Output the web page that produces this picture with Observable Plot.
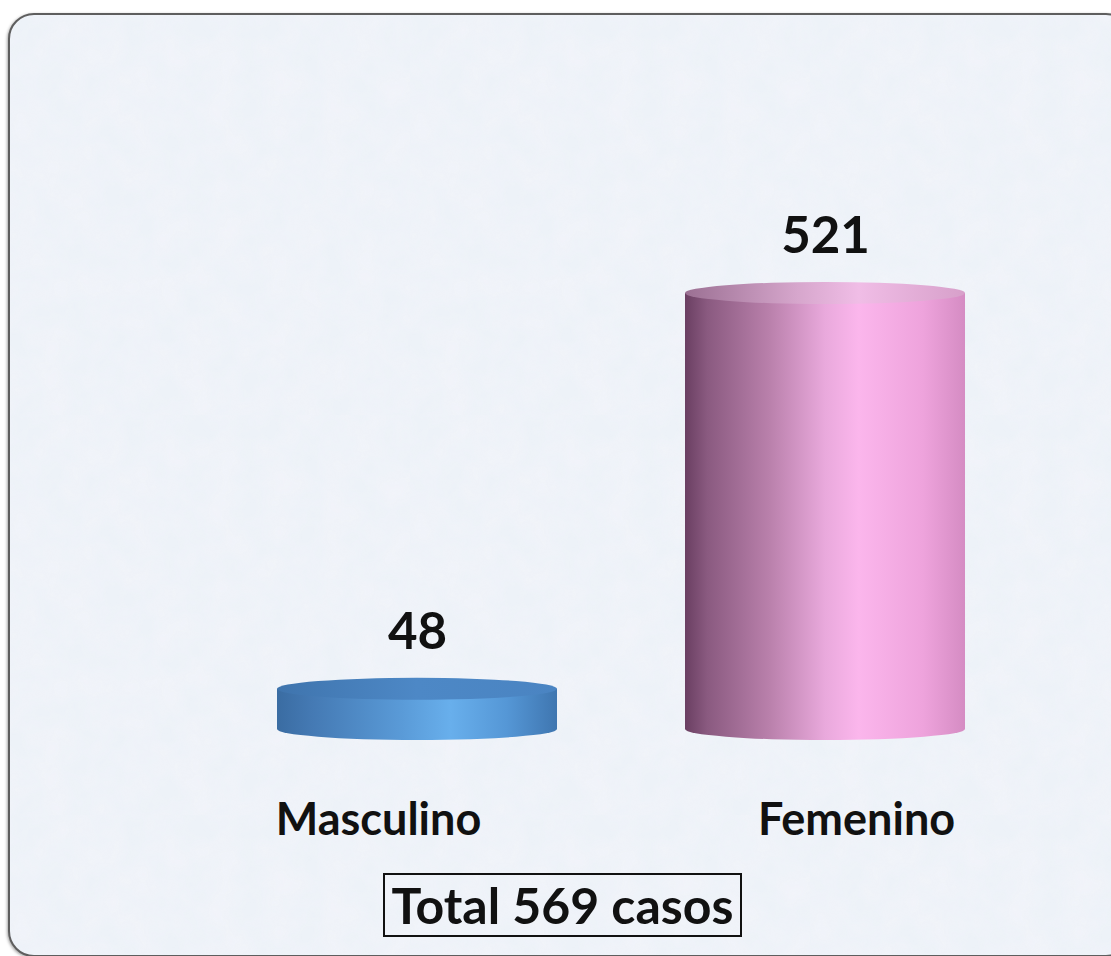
<!DOCTYPE html>
<html><head><meta charset="utf-8">
<script src="https://cdn.jsdelivr.net/npm/d3@7"></script>
<script src="https://cdn.jsdelivr.net/npm/@observablehq/plot@0.6"></script>
<style>
html,body{margin:0;padding:0;width:1111px;height:956px;overflow:hidden;background:#fff;}
#frame{position:absolute;left:8px;top:13px;width:1120px;height:940px;border:2px solid #5e5e5e;border-radius:26px;
  background:#edf2f8 url("data:image/svg+xml;utf8,<svg xmlns='http://www.w3.org/2000/svg' width='400' height='400'><filter id='n'><feTurbulence type='fractalNoise' baseFrequency='0.035' numOctaves='3' seed='4'/><feColorMatrix values='0 0 0 0 0.97  0 0 0 0 0.93  0 0 0 0 0.98  0 0 0 0.45 -0.1'/></filter><rect width='100%' height='100%' filter='url(%23n)'/></svg>");
  box-shadow:-1px 1px 3px rgba(0,0,0,.35);}
#chart{position:absolute;left:0;top:0;}
#total{position:absolute;left:383px;top:873px;width:359px;height:64px;border:2px solid #111;box-sizing:border-box;
  font:700 50px Lato, sans-serif;color:#111;text-align:center;line-height:60px;white-space:nowrap;}
</style></head>
<body>
<div id="frame"></div>
<div id="chart"></div>
<div id="total"></div>
<script>
const categories = ["Masculino", "Femenino"];
const values = [48, 521];
const captionPrefix = "Total";
const captionSuffix = "casos";

const data = categories.map((c, i) => ({cat: c, value: values[i]}));
const total = d3.sum(values);
const RY = 11;

// gradient definitions
function defsMark() {
  return () => {
    const svg = d3.create("svg:g");
    const defs = svg.append("defs");
    const grads = {
      side0: [[0, "#3a6ca2"], [0.12, "#4479b3"], [0.45, "#5a9bd8"], [0.62, "#68afec"], [0.82, "#5597d6"], [1, "#3f76b0"]],
      top0:  [[0, "#3f74ad"], [0.5, "#4d88c6"], [1, "#4a84c2"]],
      side1: [[0, "#6a3f62"], [0.08, "#8a5a80"], [0.3, "#b980ab"], [0.5, "#e9a9dc"], [0.62, "#fbb6ec"], [0.85, "#eea3dc"], [1, "#d58cc3"]],
      top1:  [[0, "#9b7093"], [0.4, "#d6a6cc"], [0.62, "#f0bde6"], [1, "#d7a0ca"]]
    };
    for (const [id, stops] of Object.entries(grads)) {
      const g = defs.append("linearGradient").attr("id", id).attr("x1", 0).attr("x2", 1).attr("y1", 0).attr("y2", 0);
      for (const [o, c] of stops) g.append("stop").attr("offset", o).attr("stop-color", c);
    }
    return svg.node();
  };
}

// ellipses (cylinder caps) placed through Plot's scales
function capsMark(which) {
  return (index, scales) => {
    const sx = scales.x, sy = scales.y, bw = sx.bandwidth();
    const g = d3.create("svg:g");
    data.forEach((d, i) => {
      const cy = which === "bottom" ? sy(0) : sy(d.value);
      g.append("ellipse")
        .attr("cx", sx(d.cat) + bw / 2).attr("cy", cy)
        .attr("rx", bw / 2).attr("ry", RY)
        .attr("fill", which === "bottom" ? `url(#side${i})` : `url(#top${i})`);
    });
    return g.node();
  };
}

const chart = Plot.plot({
  width: 1111,
  height: 860,
  style: {background: "transparent", overflow: "visible"},
  x: {domain: categories, range: [277, 965], paddingInner: 0.3146, paddingOuter: 0, axis: null},
  y: {domain: [0, 521], range: [729, 293], axis: null},
  marks: [
    defsMark(),
    capsMark("bottom"),
    Plot.barY(data.filter(d => d.cat === categories[0]), {x: "cat", y: "value", fill: "url(#side0)"}),
    Plot.barY(data.filter(d => d.cat === categories[1]), {x: "cat", y: "value", fill: "url(#side1)"}),
    capsMark("top"),
    Plot.text(data, {x: "cat", y: "value", text: d => String(d.value), dy: -57,
      fontSize: 51, fontWeight: 700, fontFamily: "Lato, sans-serif", fill: "#111"}),
    Plot.text(data.filter(d => d.cat === categories[0]), {x: "cat", y: () => 0, text: "cat", dy: 91, dx: -39,
      fontSize: 45, fontWeight: 700, fontFamily: "Lato, sans-serif", fill: "#111"}),
    Plot.text(data.filter(d => d.cat === categories[1]), {x: "cat", y: () => 0, text: "cat", dy: 91, dx: 31,
      fontSize: 45, fontWeight: 700, fontFamily: "Lato, sans-serif", fill: "#111"})
  ]
});
document.getElementById("chart").appendChild(chart);
document.getElementById("total").textContent = `${captionPrefix} ${total} ${captionSuffix}`;
</script>
</body></html>
